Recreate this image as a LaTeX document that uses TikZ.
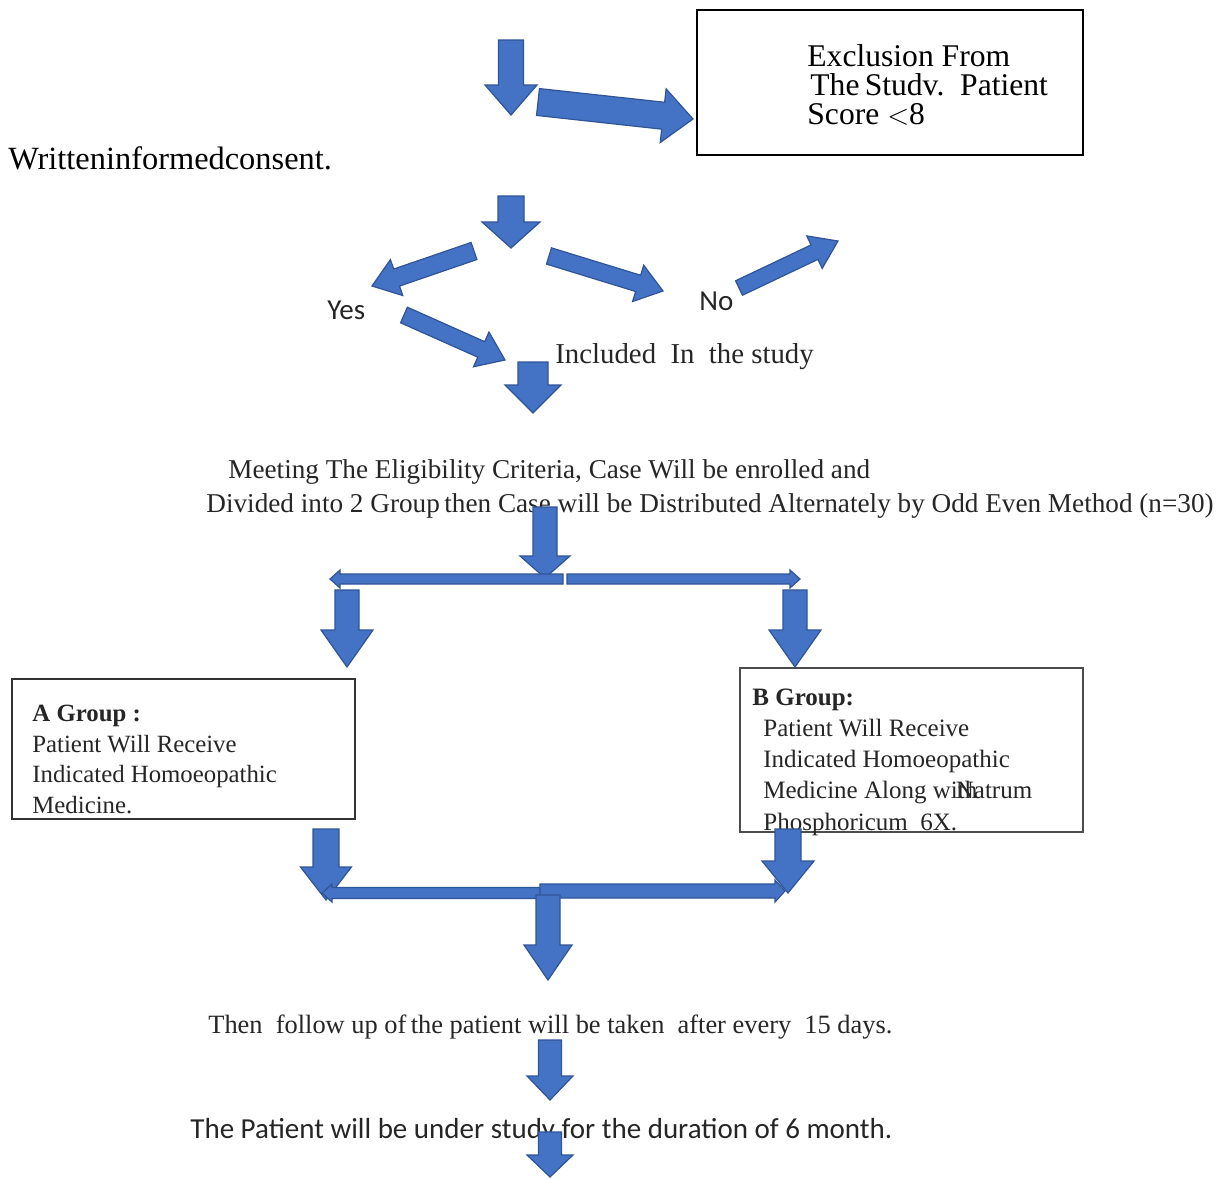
\documentclass[tikz,border=0pt]{standalone}
\usepackage{fontspec}
\setmainfont{Liberation Serif}
\newfontfamily\calib{Carlito}
\definecolor{arrfill}{HTML}{4472C4}
\definecolor{arrline}{HTML}{2F5597}
\definecolor{txt}{HTML}{262626}
\newcommand\blockarr[7]{%
  \pgfmathsetmacro\baang{atan2((#2)-(#4),(#3)-(#1))}%
  \pgfmathsetmacro\balen{veclen((#3)-(#1),(#4)-(#2))}%
  \pgfmathsetmacro\baneck{\balen-(#7)}%
  \begin{scope}[shift={(#1,#2)},rotate=\baang]
    \draw[blockarrow] (0,-#5/2) -- (\baneck,-#5/2) -- (\baneck,-#6/2) -- (\balen,0)
      -- (\baneck,#6/2) -- (\baneck,#5/2) -- (0,#5/2) -- cycle;
  \end{scope}}
\begin{document}
\begin{tikzpicture}[x=0.5pt,y=-0.5pt,
  blockarrow/.style={fill=arrfill,draw=arrline,line width=0.6pt,line join=miter},
  lbl/.style={inner sep=0pt,anchor=base west,text=txt,font=\fontsize{13.6}{15}\selectfont},
  sanslbl/.style={lbl,font=\calib\fontsize{14.5}{16}\selectfont},
  grouptext/.style={inner sep=0pt,anchor=base west,align=left,text=txt,font=\fontsize{12.4}{15.2}\selectfont}]
\useasboundingbox[fill=white] (0,0) rectangle (1226,1178);

% exclusion box
\draw[line width=0.8pt] (697,155) -- (697,10) -- (1083,10) -- (1083,155) -- cycle;
\node[inner sep=0pt,anchor=base west,align=left,font=\fontsize{15.8}{14.5}\selectfont] (excl) at (807,124)
  {Exclusion From\\\hspace*{1.5pt}The\,Studv.\ \ Patient\\Score $<$8};

\node[inner sep=0pt,anchor=base west,font=\fontsize{16.2}{18}\selectfont] (consent) at (8,169) {Writteninformedconsent.};

\node[sanslbl] (yes) at (327,319) {Yes};
\node[sanslbl] (no) at (699,310) {No};
\node[lbl,font=\fontsize{14.4}{16}\selectfont] (incl) at (555,363) {Included\ \ In\ \ the\ study};

\node[lbl] (meet1) at (228,478) {Meeting The Eligibility Criteria, Case Will be enrolled and};
\node[lbl] (meet2) at (206,512) {Divided into 2 Group\,then Case will be Distributed Alternately by Odd Even Method (n=30)};

% group boxes
\draw[draw=black!80,line width=0.8pt] (12,679) rectangle (355,819);
\node[grouptext] (agrp) at (32,813) {\textbf{A Group :}\\Patient Will Receive\\Indicated Homoeopathic\\Medicine.};
\draw[draw=black!70,line width=0.6pt] (740,668) rectangle (1083,832);
\node[grouptext,font=\fontsize{12.5}{15.6}\selectfont] (bgrp) at (752,830) {\textbf{B Group:}\\
  \hspace*{5.5pt}Patient Will Receive\\
  \hspace*{5.5pt}Indicated Homoeopathic\\
  \hspace*{5.5pt}Medicine Along wi\rlap{th}\kern-1pt Natrum\\
  \hspace*{5.5pt}Phosphoricum\ \ 6X.};

\node[lbl,font=\fontsize{13.2}{15}\selectfont] (follow) at (208,1033) {Then\ \ follow up of\,the patient will be taken\ \ after every\ \ 15 days.};
\node[sanslbl] (dur) at (190,1138) {The Patient will be under study for the duration of 6 month.};

% block arrows: x1 y1 x2 y2 shaft head headlength
\blockarr{511}{40}{511}{115}{25}{52}{30}
\blockarr{538}{102}{693}{119}{27}{54}{30}
\blockarr{511}{196}{511}{248}{26}{58}{26}
\blockarr{474}{251}{372}{286}{18}{38}{26}
\blockarr{549}{256}{663}{291}{17}{38}{26}
\blockarr{739}{288}{838}{241}{16}{36}{26}
\blockarr{404}{315}{505}{360}{17}{38}{26}
\blockarr{533}{362}{533}{413}{30}{56}{28}
\blockarr{545}{507}{545}{578}{24}{50}{22}
\blockarr{563}{579}{330}{579}{10}{18}{10}
\blockarr{567}{579}{800}{579}{10}{18}{10}
\blockarr{347}{590}{347}{667}{24}{52}{37}
\blockarr{795}{590}{795}{667}{24}{52}{37}
\blockarr{326}{829}{326}{900}{26}{51}{33}
\blockarr{545}{893}{322}{893}{11}{18}{10}
\blockarr{540}{891}{785}{891}{14}{22}{10}
\blockarr{788}{829}{788}{893}{26}{52}{32}
\blockarr{548}{895}{548}{980}{24}{48}{35}
\blockarr{550}{1040}{550}{1100}{23}{46}{24}
\blockarr{550}{1132}{550}{1177}{23}{46}{22}
\end{tikzpicture}
\end{document}
